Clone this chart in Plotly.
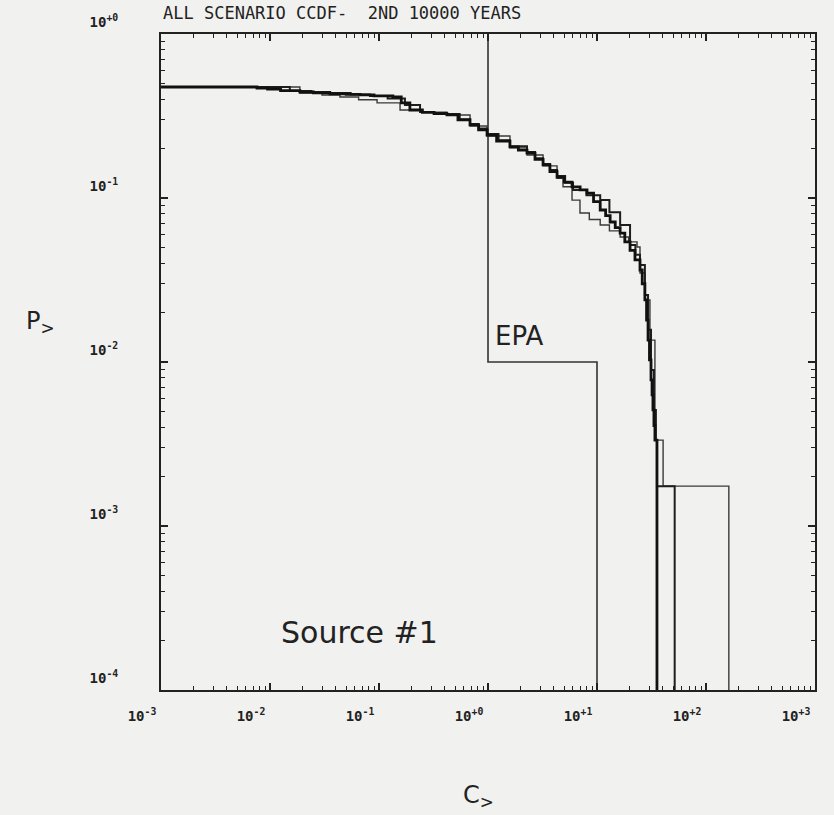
import plotly.graph_objects as go

# ---- data ----
# Curve A (heavy line): concentration thresholds C and exceedance probability P
curve_a_c = [0.001, 0.0076, 0.0095, 0.0125, 0.0188, 0.025, 0.0355, 0.05, 0.067, 0.09,
             0.134, 0.16, 0.192, 0.25, 0.32, 0.42, 0.53, 0.684, 0.82, 0.98,
             1.2, 1.59, 1.9, 2.28, 2.7, 3.2, 3.7, 4.3, 5.0, 5.9,
             7.0, 8.1, 9.3, 10.7, 12.0, 13.2, 14.7, 16.3, 18.0, 20.1,
             22.3, 24.8, 26.0, 27.5, 28.5, 29.4, 30.3, 31.3, 32.0, 32.6,
             33.3, 34.0, 35.5]
curve_a_p = [0.475, 0.468, 0.462, 0.452, 0.443, 0.437, 0.431, 0.428, 0.425, 0.419,
             0.413, 0.38, 0.344, 0.333, 0.327, 0.321, 0.30, 0.279, 0.26, 0.242,
             0.222, 0.205, 0.196, 0.188, 0.172, 0.159, 0.145, 0.134, 0.125, 0.117,
             0.112, 0.107, 0.095, 0.0845, 0.078, 0.0714, 0.066, 0.061, 0.054, 0.048,
             0.042, 0.0364, 0.030, 0.0239, 0.018, 0.0136, 0.0103, 0.00777, 0.0063, 0.0051,
             0.0041, 0.00334, 1e-5]

# Curve B (medium line)
curve_b_c = [0.001, 0.0152, 0.024, 0.0355, 0.055, 0.0826, 0.12, 0.173, 0.238, 0.32,
             0.42, 0.55, 0.684, 0.82, 0.98, 1.25, 1.59, 2.28, 2.7, 3.2,
             3.7, 4.3, 5.1, 6.03, 8.0, 10.7, 13.0, 16.3, 20.1, 22.5,
             24.8, 27.5, 29.4, 31.3, 33.3, 34.7, 35.5, 51.6]
curve_b_p = [0.475, 0.449, 0.443, 0.437, 0.427, 0.419, 0.405, 0.369, 0.334, 0.329,
             0.325, 0.30, 0.283, 0.265, 0.246, 0.225, 0.207, 0.191, 0.175, 0.161,
             0.148, 0.136, 0.124, 0.112, 0.104, 0.0972, 0.082, 0.0685, 0.0517, 0.045,
             0.039, 0.0256, 0.0157, 0.00894, 0.0051, 0.00334, 0.00175, 1e-5]

# Curve C (thin line)
curve_c_c = [0.001, 0.0188, 0.03, 0.0438, 0.065, 0.096, 0.156, 0.25, 0.42, 0.684,
             0.98, 1.59, 2.28, 3.2, 4.3, 4.88, 5.9, 6.98, 8.5, 10.7,
             13.0, 16.3, 19.5, 23.3, 24.8, 27.5, 30.6, 34.0, 40.4, 162.0]
curve_c_p = [0.475, 0.437, 0.425, 0.413, 0.397, 0.38, 0.344, 0.334, 0.321, 0.275,
             0.239, 0.202, 0.183, 0.157, 0.132, 0.117, 0.097, 0.081, 0.074, 0.0685,
             0.063, 0.0578, 0.054, 0.0503, 0.0349, 0.0239, 0.0136, 0.00334, 0.00175, 1e-5]

# EPA limit
epa_c = [1.0, 1.0, 10.0, 10.0]
epa_p = [1.0, 0.01, 0.01, 1e-5]

x_tickvals = [1e-3, 1e-2, 1e-1, 1e0, 1e1, 1e2, 1e3]
x_ticktext = ["10<sup>-3</sup>", "10<sup>-2</sup>", "10<sup>-1</sup>", "10<sup>+0</sup>",
              "10<sup>+1</sup>", "10<sup>+2</sup>", "10<sup>+3</sup>"]
y_tickvals = [1e-4, 1e-3, 1e-2, 1e-1, 1e0]
y_ticktext = ["10<sup>-4</sup>", "10<sup>-3</sup>", "10<sup>-2</sup>", "10<sup>-1</sup>",
              "10<sup>+0</sup>"]

title_text = "ALL SCENARIO CCDF-  2ND 10000 YEARS"

INK = "#222222"
BG = "#f1f1ef"
MONO = "DejaVu Sans Mono"


def minor_positions(decades):
    return [m * d for d in decades[:-1] for m in range(2, 10)]


fig = go.Figure()
fig.add_trace(go.Scatter(x=epa_c, y=epa_p, mode="lines",
                         line=dict(color="#333333", width=1.6), showlegend=False))
fig.add_trace(go.Scatter(x=curve_c_c, y=curve_c_p, mode="lines", line_shape="hv",
                         line=dict(color="#3a3a3a", width=1.4), showlegend=False))
fig.add_trace(go.Scatter(x=curve_b_c, y=curve_b_p, mode="lines", line_shape="hv",
                         line=dict(color="#1e1e1e", width=2.0), showlegend=False))
fig.add_trace(go.Scatter(x=curve_a_c, y=curve_a_p, mode="lines", line_shape="hv",
                         line=dict(color="#111111", width=2.8), showlegend=False))

axis_common = dict(
    showline=True, linecolor=INK, linewidth=2, mirror="allticks",
    ticks="inside", ticklen=7, tickwidth=1.5, tickcolor=INK,
    showgrid=False, zeroline=False,
    tickfont=dict(family=MONO, size=14, color=INK, weight="bold"),
)

fig.update_xaxes(type="log", range=[-3, 3], tickvals=x_tickvals, ticktext=x_ticktext,
                 ticklabelstandoff=12, ticklabelshift=-19,
                 minor=dict(ticks="inside", ticklen=4, tickwidth=1.3, tickcolor=INK,
                            tickvals=minor_positions(x_tickvals), showgrid=False),
                 **axis_common)
fig.update_yaxes(type="log", range=[-4, 0], tickvals=y_tickvals, ticktext=y_ticktext,
                 ticklabelstandoff=38, ticklabelshift=-12,
                 minor=dict(ticks="inside", ticklen=4, tickwidth=1.3, tickcolor=INK,
                            tickvals=minor_positions(y_tickvals), showgrid=False),
                 **axis_common)

annotations = [
    dict(text=title_text, xref="paper", yref="paper", x=0.0, y=1.0, yshift=9,
         xanchor="left", yanchor="bottom", showarrow=False,
         font=dict(family=MONO, size=17, color=INK)),
    dict(text="EPA", xref="x", yref="y", x=0.05, y=-1.84, xanchor="left", yanchor="middle",
         showarrow=False, font=dict(family="DejaVu Sans", size=26, color=INK)),
    dict(text="Source #1", xref="x", yref="y", x=-1.92, y=-3.65, xanchor="left", yanchor="middle",
         showarrow=False, font=dict(family="DejaVu Sans", size=30, color=INK)),
    dict(text="P<sub>></sub>", xref="paper", yref="paper", x=-0.21, y=0.56, xanchor="left",
         yanchor="middle", showarrow=False, font=dict(family="DejaVu Sans", size=24, color=INK)),
    dict(text="C<sub>></sub>", xref="paper", yref="paper", x=0.485, y=-0.163, xanchor="center",
         yanchor="middle", showarrow=False, font=dict(family="DejaVu Sans", size=24, color=INK)),
]

fig.update_layout(
    width=834, height=815,
    margin=dict(l=161, r=19, t=34, b=125),
    paper_bgcolor=BG, plot_bgcolor=BG,
    annotations=annotations,
    showlegend=False,
)

fig.write_html("out.html", config={"displayModeBar": False},
               post_script="document.body.style.margin='0';document.body.style.background='#f1f1ef';")
